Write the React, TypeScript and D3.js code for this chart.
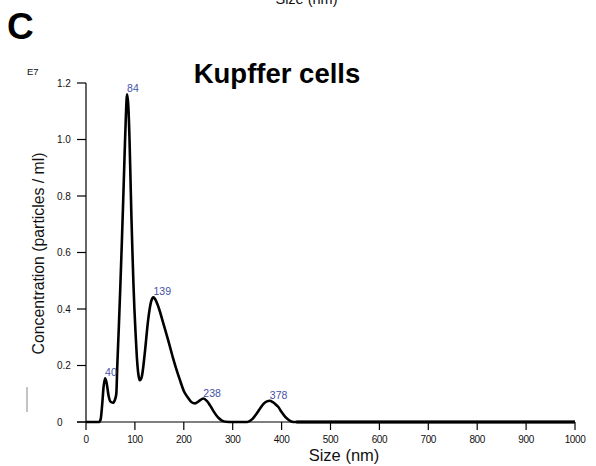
import React from "react";
import * as d3 from "d3";

const sizes = [0, 27, 30, 33, 36, 39, 42, 46, 50, 55, 59, 62, 64, 67, 70, 73, 76, 79, 81.5, 84, 86.5, 89, 91, 93, 95, 97, 99, 101.5, 104, 107, 110, 114, 120, 127, 133, 138, 143, 148, 158, 168, 178, 186, 192, 200, 209, 216, 223, 231, 240, 247, 254, 262, 270, 278, 286, 300, 330, 340, 349, 356, 363, 370, 376, 382, 388, 393, 400, 407, 414, 420, 428, 1000];
const concentrations = [0, 0, 0.01, 0.06, 0.125, 0.155, 0.14, 0.095, 0.072, 0.068, 0.078, 0.1, 0.2, 0.33, 0.47, 0.62, 0.78, 0.95, 1.08, 1.16, 1.12, 1.0, 0.86, 0.72, 0.6, 0.49, 0.4, 0.31, 0.23, 0.17, 0.148, 0.16, 0.24, 0.36, 0.425, 0.441, 0.43, 0.408, 0.35, 0.29, 0.226, 0.18, 0.149, 0.11, 0.085, 0.07, 0.066, 0.074, 0.083, 0.075, 0.058, 0.035, 0.016, 0.005, 0.001, 0, 0, 0.01, 0.03, 0.048, 0.064, 0.073, 0.075, 0.07, 0.062, 0.054, 0.035, 0.019, 0.008, 0.002, 0, 0];

const peakSizes = [39, 84, 138, 240, 376];
const peakConcentrations = [0.155, 1.16, 0.441, 0.083, 0.075];
const peakLabels = ["40", "84", "139", "238", "378"];

const xTicks = [0, 100, 200, 300, 400, 500, 600, 700, 800, 900, 1000];
const xTickLabels = ["0", "100", "200", "300", "400", "500", "600", "700", "800", "900", "1000"];
const yTicks = [0, 0.2, 0.4, 0.6, 0.8, 1.0, 1.2];
const yTickLabels = ["0", "0.2", "0.4", "0.6", "0.8", "1.0", "1.2"];

const FONT = "'Liberation Sans', Arial, Helvetica, sans-serif";
const BLUE = "#4452a6";

export default function App() {
  const x = d3.scaleLinear().domain([0, 1000]).range([86, 575]);
  const y = d3.scaleLinear().domain([0, 1.2]).range([422, 83]);
  const pts = sizes.map((s, i) => [s, concentrations[i]] as [number, number]);
  const line = d3
    .line<[number, number]>()
    .x((d) => x(d[0]))
    .y((d) => y(d[1]))
    .curve(d3.curveMonotoneX);

  return (
    <svg
      width={596}
      height={466}
      style={{ position: "absolute", left: 0, top: 0, display: "block", background: "#fff" }}
      fontFamily={FONT}
    >
      <rect x={0} y={0} width={596} height={466} fill="#fff" />
      {/* partial text from upper panel (cut off at top, as in the reference) */}
      <text x={306.5} y={4} fontSize={14.5} textAnchor="middle" fill="#111">Size (nm)</text>
      {/* panel letter */}
      <text x={7} y={39} fontSize={37} fontWeight="bold" fill="#000">C</text>
      {/* title */}
      <text x={277} y={83} fontSize={27.5} fontWeight="bold" textAnchor="middle" fill="#000">Kupffer cells</text>
      {/* exponent */}
      <text x={27} y={75} fontSize={9.5} fill="#111">E7</text>
      {/* stray mark */}
      <line x1={27} x2={27} y1={387} y2={412} stroke="#888" strokeWidth={1} />

      {/* y axis */}
      <line x1={x(0)} x2={x(0)} y1={y(1.2)} y2={y(0)} stroke="#000" strokeWidth={1.2} />
      {yTicks.map((t, i) => (
        <g key={"y" + i}>
          <line x1={77} x2={x(0)} y1={y(t)} y2={y(t)} stroke="#000" strokeWidth={1.2} />
          <text x={57} y={y(t) + 3.5} fontSize={10} fill="#111">{yTickLabels[i]}</text>
        </g>
      ))}
      {/* x axis */}
      <line x1={77} x2={x(1000)} y1={y(0)} y2={y(0)} stroke="#000" strokeWidth={1.2} />
      {xTicks.map((t, i) => (
        <g key={"x" + i}>
          <line x1={x(t)} x2={x(t)} y1={y(0)} y2={y(0) + 8} stroke="#000" strokeWidth={1.2} />
          <text x={x(t)} y={443} fontSize={10} letterSpacing={-0.4} textAnchor="middle" fill="#111">{xTickLabels[i]}</text>
        </g>
      ))}

      {/* axis titles */}
      <text x={344} y={461} fontSize={16.5} textAnchor="middle" fill="#111">Size (nm)</text>
      <text
        transform={`translate(44, 253.5) rotate(-90)`}
        fontSize={15.8}
        textAnchor="middle"
        fill="#111"
      >
        Concentration (particles / ml)
      </text>

      {/* curve */}
      <path d={line(pts) || ""} fill="none" stroke="#000" strokeWidth={2.6} strokeLinejoin="round" />
      <line x1={x(430)} x2={x(1000)} y1={y(0)} y2={y(0)} stroke="#000" strokeWidth={3} />

      {/* peak labels */}
      {peakSizes.map((s, i) => (
        <text key={"p" + i} x={x(s)} y={y(peakConcentrations[i]) - 2} fontSize={10.5} fill={BLUE}>
          {peakLabels[i]}
        </text>
      ))}
    </svg>
  );
}
